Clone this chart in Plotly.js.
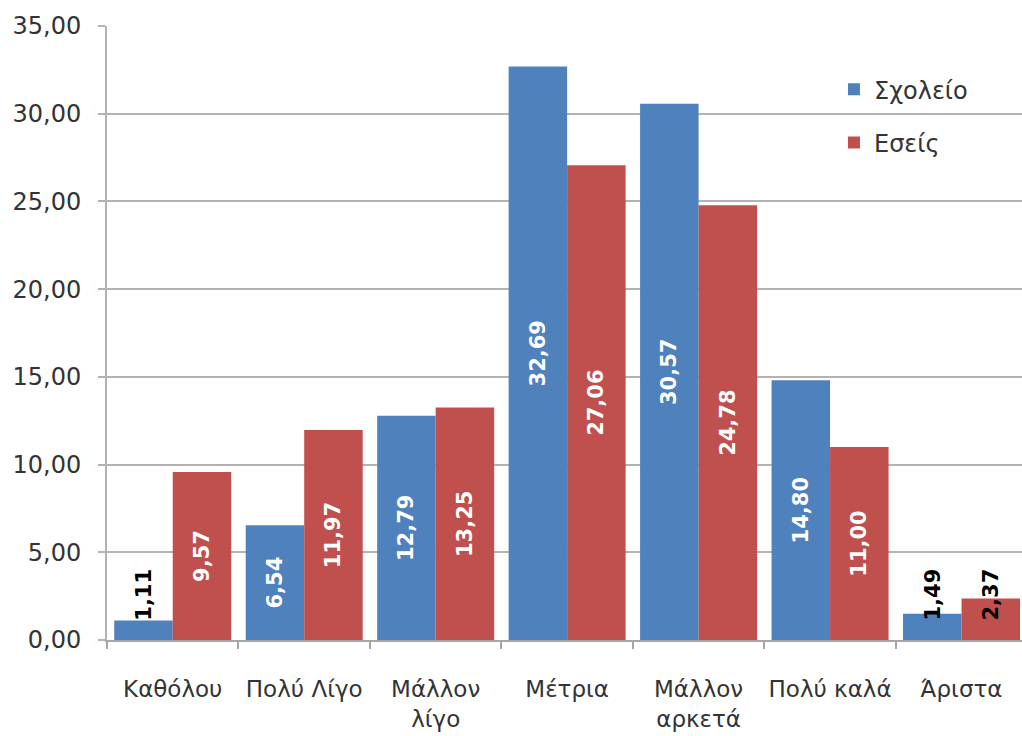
<!DOCTYPE html>
<html>
<head>
<meta charset="utf-8">
<script src="https://cdn.plot.ly/plotly-3.0.1.min.js"></script>
<style>html,body{margin:0;padding:0;background:#fff;}#chart{width:1022px;height:736px;}</style>
</head>
<body>
<div id="chart"></div>
<script>
const categories = ["Καθόλου", "Πολύ Λίγο", "Μάλλον<br>λίγο", "Μέτρια", "Μάλλον<br>αρκετά", "Πολύ καλά", "Άριστα"];
const schoolValues = [1.11, 6.54, 12.79, 32.69, 30.57, 14.80, 1.49];
const yourValues = [9.57, 11.97, 13.25, 27.06, 24.78, 11.00, 2.37];
const seriesNames = ["Σχολείο", "Εσείς"];
const yTickValues = [0, 5, 10, 15, 20, 25, 30, 35];

const FONT = "DejaVu Sans";
const SMALL = 5;

function makeTrace(vals, name, color, offsetIdx) {
  return {
    type: "bar",
    x: categories,
    y: vals,
    name: name,
    marker: {color: color, line: {color: color, width: 0}},
    text: vals.map(v => v < SMALL ? "" : v.toFixed(2).replace(".", ",")),
    textposition: "inside",
    insidetextanchor: "middle",
    textangle: -90,
    constraintext: "none",
    textfont: {family: FONT, size: 21, color: "#ffffff", weight: "bold"},
    hoverinfo: "none",
    legendgroup: "g" + offsetIdx
  };
}

const traces = [
  makeTrace(schoolValues, seriesNames[0], "#4F81BD", 0),
  makeTrace(yourValues, seriesNames[1], "#C0504D", 1)
];

const annotations = [];
[schoolValues, yourValues].forEach((vals, s) => {
  vals.forEach((v, i) => {
    if (v < SMALL) {
      annotations.push({
        x: categories[i], y: 0, xref: "x", yref: "y",
        xshift: s === 0 ? -29 : 29,
        yanchor: "bottom", xanchor: "center",
        yshift: 17,
        text: v.toFixed(2).replace(".", ","),
        textangle: -90,
        showarrow: false,
        font: {family: FONT, size: 21, color: "#000000", weight: "bold"}
      });
    }
  });
});

const layout = {
  width: 1022,
  height: 736,
  margin: {l: 107, r: 0, t: 26, b: 96},
  paper_bgcolor: "#ffffff",
  plot_bgcolor: "#ffffff",
  separators: ",.",
  font: {family: FONT, size: 24, color: "#404040"},
  barmode: "group",
  bargap: 0.11,
  bargroupgap: 0,
  showlegend: true,
  legend: {
    x: 0.7945, y: 0.933, xanchor: "left", yanchor: "top",
    bgcolor: "rgba(0,0,0,0)",
    font: {family: FONT, size: 24, color: "#333333"},
    traceorder: "grouped",
    tracegroupgap: 19,
    itemwidth: 30
  },
  xaxis: {
    type: "category",
    range: [-0.5, 6.46],
    showgrid: false,
    showline: true,
    linecolor: "#a6a6a6",
    linewidth: 2,
    ticks: "outside",
    tickson: "boundaries",
    ticklen: 7,
    tickwidth: 2,
    tickcolor: "#a6a6a6",
    tickangle: 0,
    tickfont: {family: FONT, size: 23, color: "#333333"},
    ticklabelstandoff: 27
  },
  yaxis: {
    range: [0, 35],
    tickvals: yTickValues,
    tickformat: ".2f",
    showgrid: true,
    gridcolor: "#b3b3b3",
    gridwidth: 2,
    showline: true,
    linecolor: "#b3b3b3",
    linewidth: 2,
    zeroline: false,
    ticks: "outside",
    ticklen: 7,
    tickwidth: 2,
    tickcolor: "#b3b3b3",
    tickfont: {family: FONT, size: 24, color: "#333333"},
    ticklabelstandoff: 12
  },
  annotations: annotations
};

Plotly.newPlot("chart", traces, layout, {displayModeBar: false, staticPlot: true});
</script>
</body>
</html>
